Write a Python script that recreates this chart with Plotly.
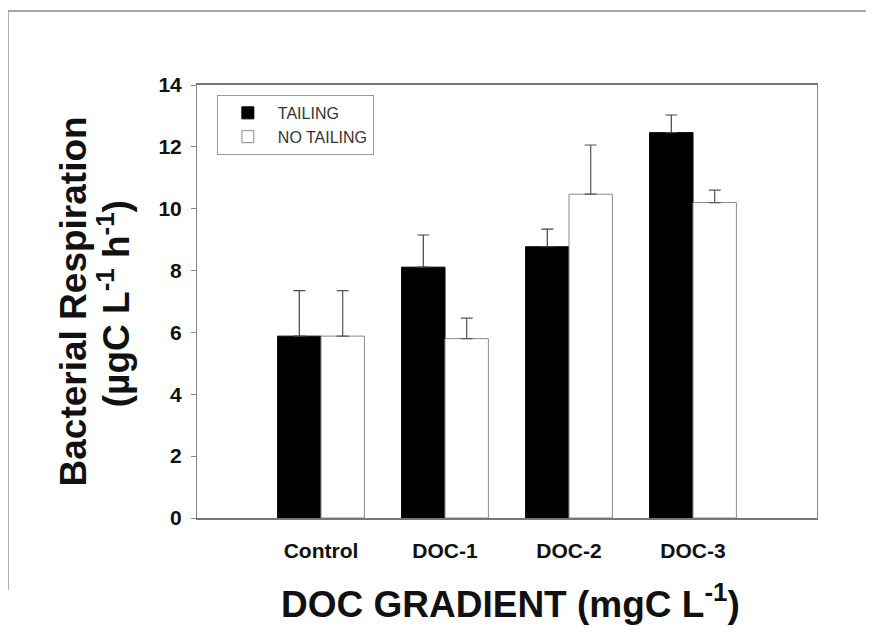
import plotly.graph_objects as go

categories = ["Control", "DOC-1", "DOC-2", "DOC-3"]
tailing = [5.88, 8.11, 8.77, 12.46]
tailing_err = [1.47, 1.04, 0.57, 0.57]
no_tailing = [5.88, 5.80, 10.47, 10.20]
no_tailing_err = [1.47, 0.66, 1.59, 0.40]
series_names = ["TAILING", "NO TAILING"]
y_ticks = [0, 2, 4, 6, 8, 10, 12, 14]

FONT = "Liberation Sans, Arial, Helvetica, sans-serif"

fig = go.Figure()
fig.add_trace(go.Bar(
    name=series_names[0], x=categories, y=tailing,
    marker=dict(color="black", line=dict(color="black", width=1)),
    error_y=dict(type="data", array=tailing_err, arrayminus=[0] * len(tailing_err),
                 symmetric=False, color="#444", thickness=1.2, width=6),
))
fig.add_trace(go.Bar(
    name=series_names[1], x=categories, y=no_tailing,
    marker=dict(color="white", line=dict(color="#8a8a8a", width=1)),
    error_y=dict(type="data", array=no_tailing_err, arrayminus=[0] * len(no_tailing_err),
                 symmetric=False, color="#555", thickness=1.2, width=6),
))

fig.update_layout(
    width=866, height=635,
    margin=dict(l=189, r=57, t=77, b=125),
    paper_bgcolor="white", plot_bgcolor="white",
    barmode="group", bargap=0.3, bargroupgap=0,
    font=dict(family=FONT, color="#111"),
    showlegend=True,
    legend=dict(
        x=0.032, y=0.977, xanchor="left", yanchor="top",
        bgcolor="white", bordercolor="#999", borderwidth=1,
        font=dict(size=16, color="#333", family=FONT),
        itemwidth=50, tracegroupgap=0,
    ),
    xaxis=dict(
        type="category", range=[-1, 4],
        showline=True, linecolor="#777", linewidth=1.5, mirror=True,
        ticks="", showgrid=False, zeroline=False,
        tickfont=dict(size=21, family=FONT, color="#111", weight="bold"),
        ticklabelstandoff=13,
    ),
    yaxis=dict(
        range=[0, 14], tickvals=y_ticks,
        showline=True, linecolor="#888", linewidth=1, mirror=True,
        ticks="outside", ticklen=5, tickcolor="#888",
        showgrid=False, zeroline=False,
        tickfont=dict(size=21, family=FONT, color="#111", weight="bold"),
        ticklabelstandoff=5,
    ),
    annotations=[
        dict(text="<b>Bacterial Respiration</b>", xref="paper", yref="paper",
             x=-0.2, y=0.5, textangle=-90, showarrow=False,
             font=dict(size=37, family=FONT, color="#111"),
             xanchor="center", yanchor="middle"),
        dict(text="<b>(µgC L<sup>-1</sup> h<sup>-1</sup>)</b>", xref="paper", yref="paper",
             x=-0.133, y=0.495, textangle=-90, showarrow=False,
             font=dict(size=37, family=FONT, color="#111"),
             xanchor="center", yanchor="middle"),
        dict(text="<b>DOC GRADIENT (mgC L<sup>-1</sup>)</b>", xref="paper", yref="paper",
             x=0.505, y=-0.193, showarrow=False,
             font=dict(size=37, family=FONT, color="#111"),
             xanchor="center", yanchor="middle"),
    ],
    shapes=[
        dict(type="line", xref="paper", yref="paper", x0=-0.305, x1=1.1, y0=1.171, y1=1.171,
             line=dict(color="#888", width=1.5)),
        dict(type="line", xref="paper", yref="paper", x0=-0.305, x1=-0.305, y0=1.171, y1=-0.166,
             line=dict(color="#888", width=1.5)),
    ],
)

fig.write_html("out.html")
